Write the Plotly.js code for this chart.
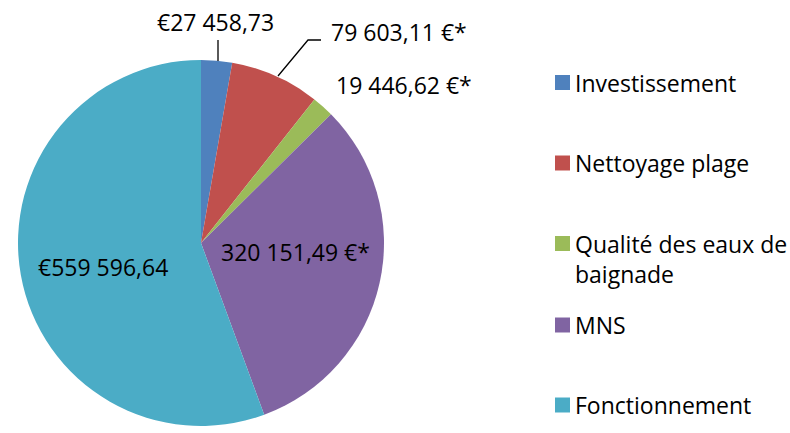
<!DOCTYPE html>
<html>
<head>
<meta charset="utf-8">
<script src="https://cdn.plot.ly/plotly-3.0.1.min.js"></script>
<style>html,body{margin:0;padding:0;background:#fff;}#chart{width:790px;height:433px;}</style>
</head>
<body>
<div id="chart"></div>
<script>
const categories = ["Investissement", "Nettoyage plage", "Qualité des eaux de baignade", "MNS", "Fonctionnement"];
const legendLabels = ["Investissement", "Nettoyage plage", "Qualité des eaux de<br>baignade", "MNS", "Fonctionnement"];
const values = [27458.73, 79603.11, 19446.62, 320151.49, 559596.64];
const dataLabels = ["€27 458,73", "79 603,11 €*", "19 446,62 €*", "320 151,49 €*", "€559 596,64"];
const colors = ["#4F81BD", "#C0504D", "#9BBB59", "#8064A2", "#4BACC6"];

const W = 790, H = 433;
const FONT = "'Open Sans', sans-serif";
const FS = 23;
const px = x => x / W;
const py = y => 1 - y / H;

// pie geometry (layout)
const cx = 201, cy = 243, r = 183;

const trace = {
  type: "pie",
  labels: categories,
  values: values,
  sort: false,
  direction: "clockwise",
  rotation: 0,
  textinfo: "none",
  hoverinfo: "label+value",
  marker: {colors: colors, line: {width: 0}},
  domain: {x: [px(cx - r), px(cx + r)], y: [py(cy + r), py(cy - r)]},
  showlegend: false
};

// label positions (layout only)
const labelPos = [
  {x: 215, y: 22, xanchor: "center"},
  {x: 329, y: 32, xanchor: "left"},
  {x: 334, y: 85, xanchor: "left"},
  {x: 219, y: 252, xanchor: "left"},
  {x: 103, y: 267, xanchor: "center"}
];

const annotations = dataLabels.map((t, i) => ({
  text: t, xref: "paper", yref: "paper",
  x: px(labelPos[i].x), y: py(labelPos[i].y),
  xanchor: labelPos[i].xanchor, yanchor: "middle",
  showarrow: false, font: {family: FONT, size: FS, color: "#000"}
}));

const shapes = [
  {type: "path", xref: "paper", yref: "paper",
   path: `M ${px(218)} ${py(61)} L ${px(218)} ${py(40)}`,
   line: {color: "#000", width: 1.3}},
  {type: "path", xref: "paper", yref: "paper",
   path: `M ${px(278)} ${py(76)} L ${px(308)} ${py(40)} L ${px(321)} ${py(40)}`,
   line: {color: "#000", width: 1.3}}
];

// legend (drawn manually)
const legendY = [82.5, 163, 243.5, 325, 405];
categories.forEach((c, i) => {
  shapes.push({type: "rect", xref: "paper", yref: "paper",
    x0: px(555), x1: px(570), y0: py(legendY[i] + 7.5), y1: py(legendY[i] - 7.5),
    fillcolor: colors[i], line: {width: 0}});
  annotations.push({text: legendLabels[i], xref: "paper", yref: "paper",
    x: px(573), y: py(legendY[i] - 18), xanchor: "left", yanchor: "top", align: "left",
    showarrow: false, font: {family: FONT, size: FS, color: "#000"}});
});

const layout = {
  width: W, height: H,
  margin: {l: 0, r: 0, t: 0, b: 0},
  paper_bgcolor: "#fff",
  showlegend: false,
  annotations: annotations,
  shapes: shapes
};

Plotly.newPlot("chart", [trace], layout, {displayModeBar: false, staticPlot: true});
</script>
</body>
</html>
